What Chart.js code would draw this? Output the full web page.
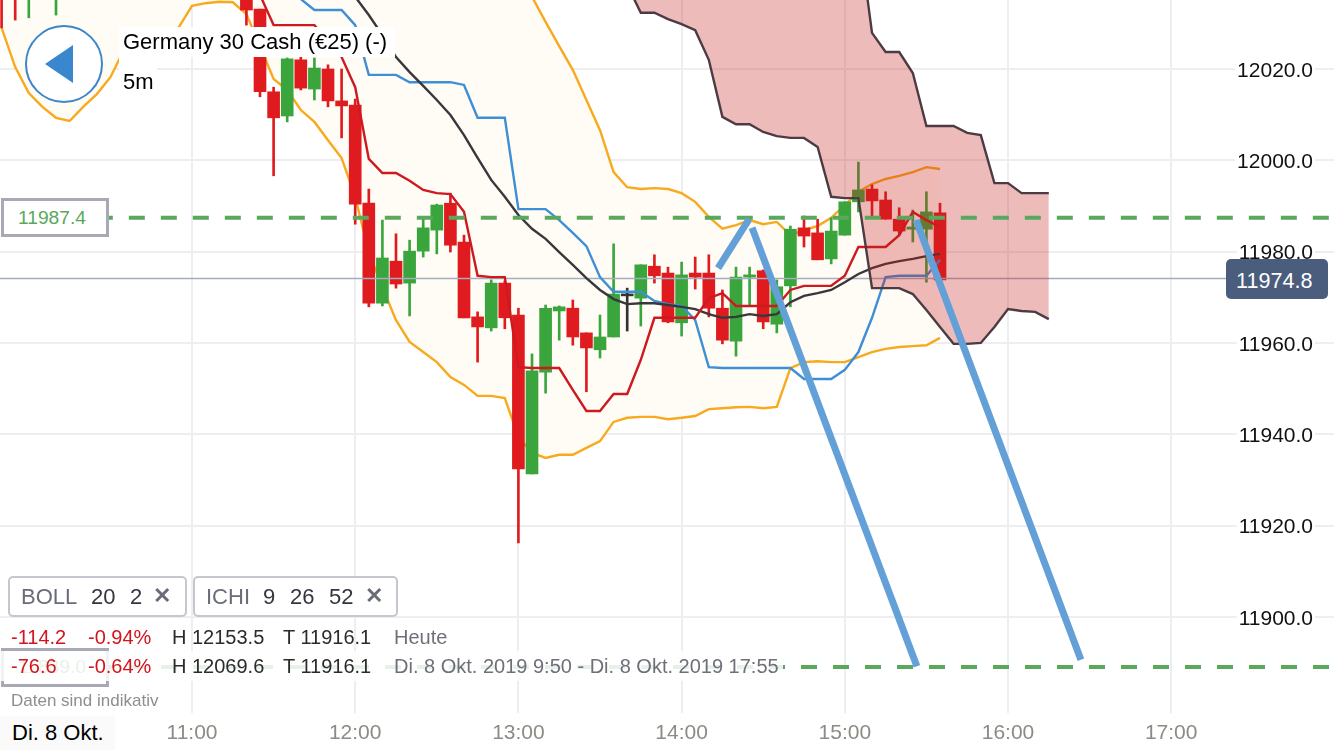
<!DOCTYPE html>
<html lang="de">
<head>
  <meta charset="UTF-8" />
  <title>Germany 30 Cash 5m</title>
  <script src="https://cdn.jsdelivr.net/npm/chart.js@4"></script>
  <style>
    html, body { margin: 0; padding: 0; background: #fff; overflow: hidden; }
    body { width: 1334px; height: 750px; position: relative; font-family: "Liberation Sans", Arial, sans-serif; }
    canvas { position: absolute; left: 0; top: 0; }
    .abs { position: absolute; white-space: nowrap; line-height: 1; }
    .box { position: absolute; box-sizing: border-box; background: #fff; }
    .chip { border: 2px solid #c6c6cf; border-radius: 5px; top: 576px; height: 41px; }
    .chip-t { top: 586px; font-size: 22px; color: #33363d; }
    .grey { color: #6a6d78; }
    .x { top: 585px; font-size: 22px; font-weight: bold; color: #6a6d78; }
    .st { font-size: 20px; color: #2b2b2b; }
    .red { color: #d4141c; }
    .note { color: #6f6f7a; }
  </style>
</head>
<body>
  <canvas id="chart" width="1334" height="750"></canvas>

  <!-- back button -->
  <svg class="abs" style="left:0;top:0" width="130" height="130">
    <circle cx="64" cy="64" r="38" fill="#fff" stroke="#3d87c9" stroke-width="2" />
    <polygon points="45,64 73,45 73,83" fill="#3a87cf" />
  </svg>

  <!-- title -->
  <div class="box" style="left:119px;top:27px;width:276px;height:30px"></div>
  <div class="box" style="left:119px;top:57px;width:38px;height:38px"></div>
  <div class="abs" style="left:123px;top:31px;font-size:22px;color:#000">Germany 30 Cash (€25) (-)</div>
  <div class="abs" style="left:123px;top:71px;font-size:22px;color:#000">5m</div>

  <!-- order levels -->
  <div class="box" style="left:1px;top:198px;width:108px;height:39px;border:3px solid #a9a9b5"></div>
  <div class="abs" style="left:18px;top:208px;font-size:19.2px;color:#5aa85e">11987.4</div>
  <div class="box" style="left:1px;top:648px;width:108px;height:39px;border:3px solid #a9a9b5"></div>
  <div class="abs" style="left:18px;top:657px;font-size:19.2px;color:#5aa85e">11889.0</div>

  <!-- last price -->
  <div class="box" style="left:1226px;top:259px;width:102px;height:40px;background:#4a5d7c;border-radius:5px"></div>
  <div class="abs" style="left:1236px;top:270px;font-size:21.6px;color:#fff">11974.8</div>

  <!-- indicator chips -->
  <div class="box chip" style="left:8px;width:179px"></div>
  <div class="abs chip-t grey" style="left:21px">BOLL</div>
  <div class="abs chip-t" style="left:91px">20</div>
  <div class="abs chip-t" style="left:130px">2</div>
  <div class="abs x" style="left:153px">✕</div>
  <div class="box chip" style="left:193px;width:205px"></div>
  <div class="abs chip-t grey" style="left:206px">ICHI</div>
  <div class="abs chip-t" style="left:263px">9</div>
  <div class="abs chip-t" style="left:290px">26</div>
  <div class="abs chip-t" style="left:329px">52</div>
  <div class="abs x" style="left:365px">✕</div>

  <!-- stats, the second row fades what lies under it -->
  <div class="box" style="left:0;top:651px;width:783px;height:30px;background:rgba(255,255,255,.85)"></div>
  <div class="abs st red" style="left:11px;top:627px">-114.2</div>
  <div class="abs st red" style="left:88px;top:627px">-0.94%</div>
  <div class="abs st" style="left:172px;top:627px">H 12153.5</div>
  <div class="abs st" style="left:283px;top:627px">T 11916.1</div>
  <div class="abs st note" style="left:394px;top:627px">Heute</div>
  <div class="abs st red" style="left:11px;top:656px">-76.6</div>
  <div class="abs st red" style="left:88px;top:656px">-0.64%</div>
  <div class="abs st" style="left:172px;top:656px">H 12069.6</div>
  <div class="abs st" style="left:283px;top:656px">T 11916.1</div>
  <div class="abs st note" style="left:394px;top:656px">Di. 8 Okt. 2019 9:50 - Di. 8 Okt. 2019 17:55</div>
  <div class="abs" style="left:11px;top:692px;font-size:17px;color:#8e8e8e">Daten sind indikativ</div>

  <div class="box" style="left:0;top:716px;width:115px;height:34px;background:#fafafa"></div>
  <div class="abs" style="left:12px;top:722px;font-size:22px;color:#000">Di. 8 Okt.</div>

  <script>
    // 5 minute bars, 9:50 to 16:15 (the cloud runs on past the last candle)
    const times = ['9:50','9:55','10:00','10:05','10:10','10:15','10:20','10:25','10:30','10:35','10:40','10:45','10:50','10:55',
      '11:00','11:05','11:10','11:15','11:20','11:25','11:30','11:35','11:40','11:45','11:50','11:55',
      '12:00','12:05','12:10','12:15','12:20','12:25','12:30','12:35','12:40','12:45','12:50','12:55',
      '13:00','13:05','13:10','13:15','13:20','13:25','13:30','13:35','13:40','13:45','13:50','13:55',
      '14:00','14:05','14:10','14:15','14:20','14:25','14:30','14:35','14:40','14:45','14:50','14:55',
      '15:00','15:05','15:10','15:15','15:20','15:25','15:30','15:35','15:40','15:45','15:50','15:55',
      '16:00','16:05','16:10','16:15'];

    const _ = null;
    const open = [12041.7,12042.0,12038.0,_,12038.0,_,_,_,_,_,_,_,_,_,_,_,_,_,
      12038.4,12033.1,12015.0,12009.7,12022.0,12015.6,12020.0,12013.0,12012.1,11990.6,11968.7,11977.9,11973.1,11980.1,11984.7,11990.6,11982.1,11965.7,11963.3,11973.1,
      11966.1,11931.3,11953.6,11967.0,11967.6,11962.2,11958.5,11961.3,11970.3,11969.8,11976.8,11975.3,
      11964.4,11975.3,11975.3,11967.6,11960.4,11974.4,11975.8,11964.1,11972.5,11985.2,11984.1,11978.4,
      11983.6,11990.9,11993.7,11991.3,11987.1,11984.9,11984.9,11988.5];
    const close = [12038.4,12038.0,12042.0,_,12041.0,_,_,_,_,_,_,_,_,_,_,_,_,_,
      12032.9,12015.0,12009.3,12022.2,12015.8,12020.2,12013.0,12011.9,11990.4,11968.7,11978.6,11972.9,11980.1,11985.2,11990.2,11981.4,11965.5,11963.5,11973.1,11965.5,
      11932.4,11953.9,11967.6,11967.9,11961.3,11958.9,11961.3,11970.7,11970.3,11977.1,11974.7,11964.6,
      11974.9,11974.4,11967.6,11960.6,11974.4,11974.9,11964.6,11972.3,11984.9,11983.4,11978.2,11984.5,
      11990.9,11993.5,11991.1,11987.1,11984.5,11985.4,11988.7,11973.8];
    const high = [12042.8,12043.0,12043.0,_,12042.0,_,_,_,_,_,_,_,_,_,_,_,_,_,
      12040.0,12033.1,12016.0,12022.4,12022.6,12022.4,12020.9,12020.0,12013.4,11993.7,11986.9,11983.9,11982.5,11987.4,11990.4,11992.8,11983.6,11966.8,11973.8,11973.6,
      11967.6,11957.6,11968.3,11968.1,11969.4,11962.2,11966.1,11981.7,11972.0,11977.1,11979.3,11976.6,
      11977.7,11978.8,11979.3,11971.6,11976.6,11976.6,11976.0,11973.8,11985.6,11987.8,11987.1,11987.4,
      11990.9,11999.6,11994.6,11993.1,11989.6,11989.1,11993.1,11990.6];
    const low = [12029.0,12030.7,12031.2,_,12031.8,_,_,_,_,_,_,_,_,_,_,_,_,_,
      12029.6,12013.9,11996.6,12008.4,12015.4,12013.2,12011.7,12004.9,11986.0,11967.9,11968.1,11972.0,11965.9,11978.8,11979.5,11979.9,11965.5,11955.8,11962.6,11963.1,
      11916.2,11931.3,11949.0,11960.6,11959.5,11949.3,11956.7,11961.3,11962.6,11963.7,11973.1,11964.4,
      11961.5,11971.8,11965.7,11959.8,11957.1,11968.3,11963.1,11962.2,11967.9,11981.0,11978.2,11977.3,
      11983.6,11988.7,11987.4,11987.1,11983.6,11982.1,11973.3,11973.8];

    // Bollinger 20 2 (the early upper band sits above the visible range)
    const bollUpper = [12055,12055,12055,12055,12055,12055,12055,12055,12055,12055,12055,12055,12055,12055,
      12055,12055,12055,12055,12055,12055,12055,12055,12055,12055,12055,12055,12055,12055,12055,12055,12055,12055,12055,12055,12055,12050,12048,12045,12040,
      12035.8,12030.3,12025.0,12019.8,12013.2,12006.6,11997.4,11994.1,11993.7,11993.9,11993.7,
      11992.8,11990.9,11987.6,11985.0,11985.8,11986.9,11986.0,11986.5,11983.6,11984.7,11985.6,11987.4,
      11990.2,11993.1,11994.8,11995.9,11996.6,11997.4,11998.5,11998.1];
    const bollLower = [12029.0,12020.4,12014.7,12011.7,12009.3,12008.6,12011.7,12014.5,12018.2,12024.2,12025.2,12025.9,12027.2,12029.0,
      12033.8,12034.4,12034.7,12034.6,12032.0,12025.0,12017.8,12015.4,12011.0,12008.4,12004.4,12000.5,
      11992.0,11979.7,11972.2,11965.0,11960.2,11958.0,11955.8,11952.5,11950.8,11948.4,11948.4,11947.9,
      11939.4,11935.9,11934.8,11935.5,11935.5,11937.0,11938.5,11942.7,11943.6,11943.8,11943.8,11943.3,
      11943.6,11944.0,11945.5,11945.7,11945.9,11946.0,11945.7,11946.0,11954.5,11955.8,11956.0,11955.8,
      11955.8,11956.9,11958.0,11958.7,11959.1,11959.3,11959.5,11961.1];

    // Ichimoku 9 26 52
    const ichiRed = [_,_,_,_,_,_,_,_,_,_,_,_,_,_,_,_,_,_,_,12036.2,12029.6,12029.6,12029.6,12029.6,12026.3,12022.6,
      12016.0,12000.3,11997.2,11997.2,11995.5,11993.5,11992.8,11992.6,11988.7,11974.7,11974.4,11974.4,
      11954.7,11954.5,11954.5,11954.5,11949.7,11945.1,11945.1,11948.8,11948.8,11956.3,11965.5,11965.5,
      11965.5,11965.5,11969.8,11970.9,11968.1,11968.1,11968.1,11968.1,11971.6,11972.5,11972.5,11972.5,
      11974.7,11981.0,11981.0,11981.0,11983.6,11988.7,11986.9,11985.4];
    const ichiBlue = [_,_,_,_,_,_,_,_,_,_,_,_,_,_,_,_,_,_,_,_,_,_,12035.3,12032.9,12032.9,12032.9,
      12029.6,12018.7,12018.7,12018.7,12017.1,12017.1,12017.1,12017.1,12016.5,12009.3,12009.3,12009.3,
      11989.3,11989.3,11989.3,11986.9,11984.1,11981.2,11974.4,11971.2,11971.2,11971.2,11969.2,11968.5,
      11968.1,11965.0,11954.7,11954.5,11954.5,11954.5,11954.5,11954.5,11954.5,11952.1,11952.1,11952.1,
      11954.1,11958.0,11965.5,11974.4,11974.7,11974.7,11974.7,11978.2];
    const ichiBlack = [_,_,_,_,_,_,_,_,_,_,_,_,_,_,_,_,_,_,_,_,_,_,_,_,_,_,
      12035.8,12031.8,12027.4,12022.6,12019.3,12016.3,12013.2,12009.9,12005.5,12000.5,11995.7,11992.0,
      11988.0,11985.0,11982.8,11979.9,11977.1,11974.2,11971.6,11969.6,11968.5,11968.7,11968.7,11968.3,
      11967.9,11967.4,11966.3,11965.5,11965.7,11966.3,11965.9,11966.3,11968.9,11970.3,11970.9,11971.6,
      11973.3,11975.1,11976.4,11977.3,11977.9,11978.4,11979.0,11979.5];
    // cloud edges, 13:40 to 16:15
    const cloudTimes = times.slice(46);
    const cloudLower = [12038.4,12032.3,12032.3,12030.9,12029.8,12028.5,12022.0,12009.5,12007.9,12007.9,12006.2,12005.3,12004.9,12004.9,12002.9,11992.0,
      11991.7,11991.7,11972.0,11972.0,11972.0,11970.7,11967.2,11963.5,11959.8,11959.8,11960.0,11963.5,11967.4,11967.0,11966.8,11965.2];
    const cloudUpper = [12055,12055,12055,12055,12055,12055,12055,12055,12055,12055,12055,12055,12055,12055,12055,12055,
      12055,12050.4,12027.9,12023.7,12023.7,12019.1,12007.5,12007.5,12007.5,12006.0,12005.5,11995.0,11995.0,11992.8,11992.8,11992.8];

    const yTicks = [12020, 12000, 11980, 11960, 11940, 11920, 11900];
    const xTicks = ['11:00', '12:00', '13:00', '14:00', '15:00', '16:00', '17:00'];

    const orderLevels = [11987.4, 11889.0];
    const lastLine = 11974.1;

    // hand drawn trend lines, [time, price] ends
    const stroke1 = [[853.4, 11976.4], [864.8, 11987.1]];
    const stroke2 = [[865.9, 11985.2], [926.5, 11889.2]];
    const stroke3 = [[926.2, 11986.9], [986.8, 11890.6]];

    const xMin = 589.41, xMax = 1079.85, yMax = 12035.1, yMin = 11878.95;

    const toMin = t => { const [h, m] = t.split(':'); return h * 60 + +m; };
    const series = (labels, vals) => vals.map((v, i) => ({ x: toMin(labels[i]), y: v })).filter(p => p.y !== null);
    const floats = (a, b) => times.slice(0, a.length).map((t, i) => ({ x: toMin(t), y: [a[i], b[i]] })).filter(p => p.y[0] !== null);

    const candleColor = c => {
      if (!c) return '#000';
      if (c.y[0] === c.y[1]) return '#333336';
      return c.colorUp ? '#3aa53c' : '#e01b1f';
    };
    // colour comes from open/close, wicks carry it over from the same index
    const bodies = floats(open, close).map(c => ({ ...c, colorUp: c.y[1] > c.y[0] }));
    const wicks = floats(low, high).map((c, i) => ({ ...c, colorUp: bodies[i].colorUp, doji: bodies[i].y[0] === bodies[i].y[1] }));

    const line = (data, color, width, order, extra) => Object.assign({
      type: 'line', data, borderColor: color, borderWidth: width, pointRadius: 0, tension: 0, fill: false, order
    }, extra);

    const hLine = (x0, x1, y) => [{ x: x0, y }, { x: x1, y }];
    const strokeData = s => s.map(p => ({ x: p[0], y: p[1] }));

    new Chart(document.getElementById('chart'), {
      data: {
        datasets: [
          line(series(times, bollUpper), '#f8a91e', 2.4, 20, { fill: '+1', backgroundColor: '#fffcf5' }),
          line(series(times, bollLower), '#f8a91e', 2.4, 19),
          {
            type: 'bar', data: wicks, grouped: false, barThickness: 2, order: 18,
            backgroundColor: c => c.raw.doji ? '#333336' : candleColor(c.raw)
          },
          {
            type: 'bar', data: bodies, grouped: false, barThickness: 12, minBarLength: 2, order: 17,
            backgroundColor: c => candleColor(c.raw)
          },
          line(hLine(xMin, 1041.6, lastLine), '#a3adbd', 1.5, 16),
          line(series(times, ichiBlue), '#3d8fd6', 2.4, 15),
          line(series(times, ichiBlack), '#38383c', 2.4, 14),
          line(series(times, ichiRed), '#cc1a20', 2.4, 13),
          line(series(cloudTimes, cloudUpper), '#4d3b44', 2.4, 5, { fill: '+1', backgroundColor: 'rgba(200,30,30,.3)' }),
          line(series(cloudTimes, cloudLower), '#4d3b44', 2.4, 4),
          line(hLine(625, xMax, orderLevels[0]), '#5aa85e', 4, 3, { borderDash: [16, 16] }),
          line(hLine(xMin + 0.37, xMax, orderLevels[1]), '#5aa85e', 4, 3, { borderDash: [16, 16] }),
          line(strokeData(stroke1), 'rgb(100,160,216)', 7, 2),
          line(strokeData(stroke2), 'rgb(100,160,216)', 7, 2),
          line(strokeData(stroke3), 'rgb(100,160,216)', 7, 2)
        ]
      },
      options: {
        responsive: false,
        animation: false,
        layout: { padding: 0 },
        plugins: { legend: { display: false }, tooltip: { enabled: false }, title: { display: false } },
        scales: {
          x: {
            type: 'linear', position: 'bottom', min: xMin, max: xMax, offset: false,
            afterFit: s => { s.height = 37; },
            afterBuildTicks: s => { s.ticks = xTicks.map(t => ({ value: toMin(t) })); },
            grid: { color: '#eeeef0', lineWidth: 2, drawTicks: false, offset: false },
            border: { display: false },
            ticks: {
              autoSkip: false, maxRotation: 0, padding: 8, color: '#8c8c84',
              font: { family: 'Liberation Sans', size: 21 },
              callback: v => Math.floor(v / 60) + ':' + String(v % 60).padStart(2, '0')
            }
          },
          y: {
            type: 'linear', position: 'right', min: yMin, max: yMax,
            afterFit: s => { s.width = 0; },
            afterBuildTicks: s => { s.ticks = yTicks.map(v => ({ value: v })); },
            grid: { color: '#eeeef0', lineWidth: 2, drawTicks: false },
            border: { display: false },
            ticks: {
              mirror: true, padding: -21, labelOffset: 2, autoSkip: false, color: '#111',
              showLabelBackdrop: true, backdropColor: '#fff', backdropPadding: 2,
              font: { family: 'Liberation Sans', size: 21 },
              callback: v => v.toFixed(1)
            }
          }
        }
      }
    });
  </script>
</body>
</html>
